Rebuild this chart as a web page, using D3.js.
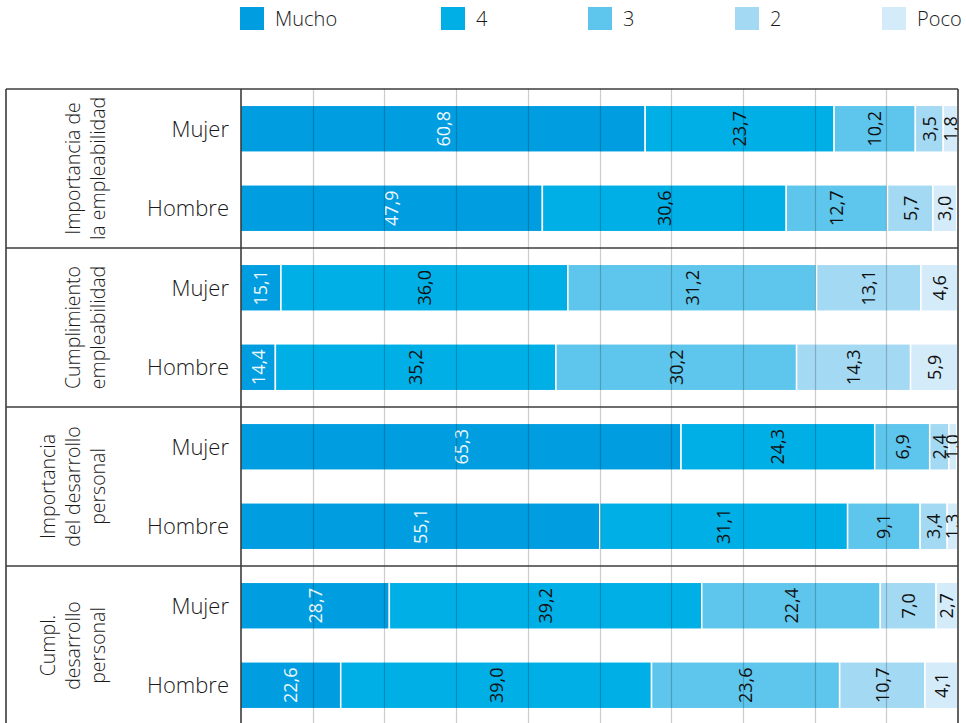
<!DOCTYPE html>
<html>
<head>
<meta charset="utf-8">
<script src="https://cdn.jsdelivr.net/npm/d3@7"></script>
<style>
  html, body { margin: 0; padding: 0; background: #fff; }
  svg { display: block; font-family: "Open Sans", "Noto Sans", sans-serif; font-weight: 300; }
</style>
</head>
<body>
<svg id="chart" width="966" height="723"></svg>
<script>
// ---- data ----
const categories = ["Mucho", "4", "3", "2", "Poco"];
const groupLabels = [
  ["Importancia de", "la empleabilidad"],
  ["Cumplimiento", "empleabilidad"],
  ["Importancia", "del desarrollo", "personal"],
  ["Cumpl.", "desarrollo", "personal"]
];
const genders = ["Mujer", "Hombre"];
const valMucho = [60.8, 47.9, 15.1, 14.4, 65.3, 55.1, 28.7, 22.6];
const val4     = [23.7, 30.6, 36.0, 35.2, 24.3, 31.1, 39.2, 39.0];
const val3     = [10.2, 12.7, 31.2, 30.2,  6.9,  9.1, 22.4, 23.6];
const val2     = [ 3.5,  5.7, 13.1, 14.3,  2.4,  3.4,  7.0, 10.7];
const valPoco  = [ 1.8,  3.0,  4.6,  5.9,  1.0,  1.3,  2.7,  4.1];
const colors = ["#009ee0", "#00afe6", "#5ec5ec", "#a4d9f3", "#d4ebf9"];

// ---- layout ----
const W = 966, H = 723;
const frameLeft = 6, panelLeft = 241, panelRight = 958, frameTop = 89;
const groupH = 159;
const svg = d3.select("#chart");

const rows = [];
groupLabels.forEach((g, gi) => genders.forEach((s, si) => rows.push({ id: gi + "-" + si, gi, label: s })));
const seriesVals = [valMucho, val4, val3, val2, valPoco];
const table = rows.map((r, i) => {
  const o = { id: r.id, gi: r.gi, label: r.label };
  categories.forEach((c, ci) => o[c] = seriesVals[ci][i]);
  return o;
});

const y = d3.scaleBand()
  .domain(rows.map(r => r.id))
  .range([frameTop, frameTop + groupH * groupLabels.length])
  .paddingInner(0.41).paddingOuter(0.205);

// bars scale: part of the bar runs under the label column (clipped)
const x = d3.scaleLinear().domain([0, 100]).range([160.6, 957.6]);
// grid scale spans the visible panel
const xg = d3.scaleLinear().domain([0, 100]).range([panelLeft, panelRight]);

const color = d3.scaleOrdinal().domain(categories).range(colors);
const stack = d3.stack().keys(categories)(table);

svg.append("defs").append("clipPath").attr("id", "clip")
  .append("rect").attr("x", panelLeft).attr("y", 0).attr("width", panelRight - panelLeft).attr("height", H);

// legend
const legendX = [240, 441, 588, 735, 882];
const leg = svg.append("g");
categories.forEach((c, i) => {
  leg.append("rect").attr("x", legendX[i]).attr("y", 7).attr("width", 24).attr("height", 23).attr("fill", color(c));
  leg.append("text").attr("x", legendX[i] + 35).attr("y", 26).attr("font-size", 20).attr("fill", "#1a1a1a").text(c);
});

// bars
const plot = svg.append("g").attr("clip-path", "url(#clip)");
stack.forEach(layer => {
  plot.append("g").selectAll("rect").data(layer).join("rect")
    .attr("x", d => x(d[0]))
    .attr("width", d => x(d[1]) - x(d[0]))
    .attr("y", d => y(d.data.id))
    .attr("height", y.bandwidth())
    .attr("fill", color(layer.key))
    .attr("stroke", "#fff").attr("stroke-width", 1.5);
});

// value labels
const fmt = v => v.toFixed(1).replace(".", ",");
stack.forEach((layer, li) => {
  plot.append("g").selectAll("text").data(layer).join("text")
    .attr("transform", d => {
      const x0 = Math.max(x(d[0]), panelLeft), x1 = x(d[1]);
      const cx = (x0 + x1) / 2;
      const cy = y(d.data.id) + y.bandwidth() / 2;
      return `translate(${cx},${cy}) rotate(-90)`;
    })
    .attr("text-anchor", "middle")
    .attr("dy", "0.36em")
    .attr("font-size", 18)
    .attr("font-weight", 400)
    .attr("fill", li === 0 ? "#eef7fc" : "#111")
    .text(d => fmt(d.data[layer.key]));
});

// gridlines over bars
const gridVals = d3.range(10, 100, 10);
svg.append("g").selectAll("line").data(gridVals).join("line")
  .attr("x1", d => Math.round(xg(d)) + 0.5).attr("x2", d => Math.round(xg(d)) + 0.5)
  .attr("y1", frameTop).attr("y2", H)
  .attr("stroke", "#000").attr("stroke-opacity", 0.2).attr("stroke-width", 1.2);

// frame
const frame = svg.append("g").attr("stroke", "#3c3c3c").attr("stroke-width", 1.6).attr("fill", "none");
d3.range(groupLabels.length).forEach(gi => {
  const yy = frameTop + gi * groupH;
  frame.append("line").attr("x1", frameLeft).attr("x2", panelRight).attr("y1", yy).attr("y2", yy);
});
[frameLeft, panelLeft, panelRight].forEach(xx => {
  frame.append("line").attr("x1", xx).attr("x2", xx).attr("y1", frameTop).attr("y2", H + 2);
});

// row labels
svg.append("g").selectAll("text").data(table).join("text")
  .attr("x", 229)
  .attr("y", d => y(d.id) + y.bandwidth() / 2)
  .attr("dy", "0.36em")
  .attr("text-anchor", "end")
  .attr("font-size", 22)
  .attr("fill", "#1a1a1a")
  .text(d => d.label);

// group labels
groupLabels.forEach((lines, gi) => {
  const cy = frameTop + gi * groupH + groupH / 2;
  const t = svg.append("text")
    .attr("transform", `translate(105,${cy}) rotate(-90)`)
    .attr("text-anchor", "middle")
    .attr("font-size", 19.5)
    .attr("fill", "#1a1a1a");
  lines.forEach((ln, i) => {
    t.append("tspan").attr("x", 0).attr("y", -(lines.length - 1 - i) * 25).text(ln);
  });
});
</script>
</body>
</html>
